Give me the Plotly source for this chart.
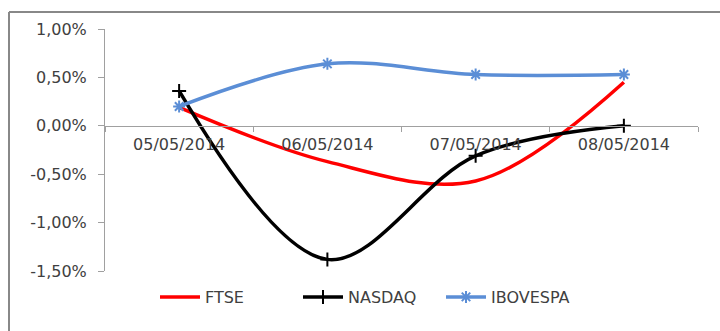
import plotly.graph_objects as go

dates = ["05/05/2014", "06/05/2014", "07/05/2014", "08/05/2014"]
ftse = [0.0019, -0.0037, -0.0057, 0.0045]
nasdaq = [0.0036, -0.0138, -0.0031, 0.0000]
ibovespa = [0.0020, 0.0064, 0.0053, 0.0053]
y_ticks = [-0.015, -0.01, -0.005, 0.0, 0.005, 0.01]
y_ticktext = [f"{v * 100:.2f}%".replace(".", ",") for v in y_ticks]

FONT = "DejaVu Sans"
TXT = "#404040"
AX = "#a0a0a0"

fig = go.Figure()
fig.add_trace(go.Scatter(x=dates, y=ftse, name="FTSE", mode="lines",
                         line=dict(color="#ff0000", width=3.5, shape="spline", smoothing=1.0)))
fig.add_trace(go.Scatter(x=dates, y=nasdaq, name="NASDAQ", mode="lines+markers",
                         line=dict(color="#000000", width=3.5, shape="spline", smoothing=1.0),
                         marker=dict(symbol="cross-thin", size=10, line=dict(color="#000000", width=2))))
fig.add_trace(go.Scatter(x=dates, y=ibovespa, name="IBOVESPA", mode="lines+markers",
                         line=dict(color="#5b8ed6", width=3.5, shape="spline", smoothing=1.0),
                         marker=dict(symbol="asterisk-open", size=10, line=dict(color="#5b8ed6", width=2))))

W, H = 720, 331
L, R, T, B = 105, 22, 29, 60
pw, ph = W - L - R, H - T - B

def px(x):
    return (x - L) / pw

def py(y):
    return (H - B - y) / ph

fig.update_layout(
    width=W, height=H,
    margin=dict(l=L, r=R, t=T, b=B),
    paper_bgcolor="white", plot_bgcolor="white",
    font=dict(family=FONT, size=16, color=TXT),
    showlegend=True,
    legend=dict(orientation="h", x=px(155), xanchor="left", y=py(297), yanchor="middle",
                font=dict(size=16, color=TXT), itemwidth=40, entrywidth=88,
                entrywidthmode="pixels"),
    xaxis=dict(type="category", range=[-0.5, 3.5], anchor="free", position=0.6, showline=True,
               linecolor=AX, linewidth=1, ticks="outside", tickson="boundaries", ticklen=5,
               tickcolor=AX, showgrid=False, zeroline=False, ticklabelstandoff=4,
               tickfont=dict(size=16, color=TXT)),
    yaxis=dict(range=[-0.015, 0.01], tickvals=y_ticks, ticktext=y_ticktext, showline=True,
               linecolor=AX, linewidth=1, ticks="outside", ticklen=6, tickcolor=AX,
               showgrid=False, zeroline=False, ticklabelstandoff=8,
               tickfont=dict(size=16, color=TXT)),
    shapes=[
        dict(type="line", xref="paper", yref="paper", x0=px(9), x1=px(720), y0=py(12), y1=py(12),
             line=dict(color="#888888", width=2)),
        dict(type="line", xref="paper", yref="paper", x0=px(9), x1=px(9), y0=py(12), y1=py(331),
             line=dict(color="#888888", width=2)),
    ],
)

fig.write_html("out.html")
